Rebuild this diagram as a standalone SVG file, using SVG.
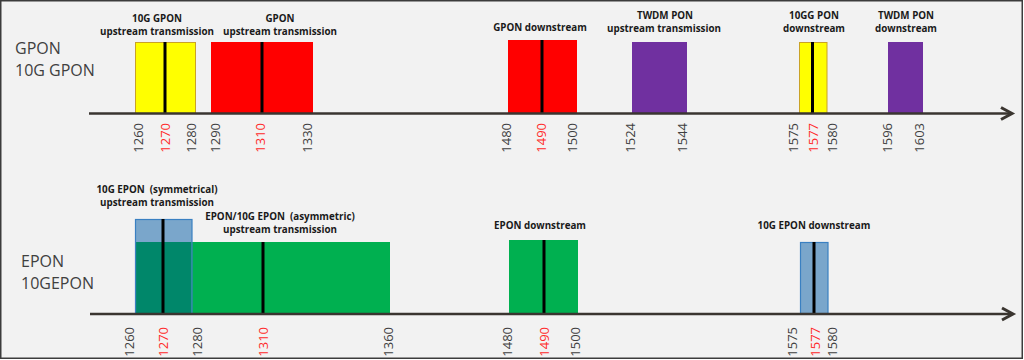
<svg xmlns="http://www.w3.org/2000/svg" width="1024" height="360" viewBox="0 0 1024 360">
  <defs>
    <clipPath id="frameClip"><rect x="1" y="1" width="1021" height="357"/></clipPath>
    <style>
      .lbl{font-family:"Open Sans","Liberation Sans",sans-serif;font-weight:bold;font-size:9.8px;fill:#1a1a1a;text-anchor:middle;white-space:pre}
      .side{font-family:"Open Sans","Liberation Sans",sans-serif;font-size:16px;fill:#404040}
      .tick{font-family:"Open Sans","Liberation Sans",sans-serif;font-size:13px;fill:#404040;text-anchor:end}
      .red{fill:#ff2a2a}
      .axis{stroke:#3a3530;stroke-width:2.5;fill:none}
      .arrow{stroke:#3a3530;stroke-width:3;fill:none;stroke-linejoin:miter}
      .center{stroke:#000;stroke-width:3}
      .yellow{fill:#ffff00;stroke:#c9a227;stroke-width:1}
      .redbox{fill:#ff0000}
      .purple{fill:#7030a0}
      .green{fill:#00b050}
      .blue{fill:#7aa6cb;stroke:#3a80c2;stroke-width:1.2}
      .teal{fill:#00876a}
    </style>
  </defs>
  <rect x="0" y="0" width="1024" height="360" fill="#ffffff"/>
  <rect x="0.75" y="0.75" width="1021.5" height="357.5" fill="#f2f2f2" stroke="#3c3c3c" stroke-width="1.5"/>

  <g clip-path="url(#frameClip)">
    <!-- Row labels -->
    <g id="row-gpon">
      <text class="side" x="15" y="54">GPON<tspan x="15" dy="22">10G GPON</tspan></text>
    </g>
    <g id="row-epon">
      <text class="side" x="21" y="267">EPON<tspan x="21" dy="22">10GEPON</tspan></text>
    </g>

    <!-- Top row bands -->
    <g id="gpon10g-up">
      <rect class="yellow" x="135.5" y="42.5" width="60" height="71"/>
      <line class="center" x1="165" y1="42" x2="165" y2="113"/>
      <text class="lbl" x="157" y="22">10G GPON<tspan x="157" dy="13.4">upstream transmission</tspan></text>
    </g>
    <g id="gpon-up">
      <rect class="redbox" x="211" y="42" width="102" height="71"/>
      <line class="center" x1="262" y1="42" x2="262" y2="113"/>
      <text class="lbl" x="280" y="22">GPON<tspan x="280" dy="13.4">upstream transmission</tspan></text>
    </g>
    <g id="gpon-down">
      <rect class="redbox" x="508" y="40" width="69" height="73"/>
      <line class="center" x1="542" y1="40" x2="542" y2="113"/>
      <text class="lbl" x="540" y="31">GPON downstream</text>
    </g>
    <g id="twdm-up">
      <rect class="purple" x="632" y="42" width="55" height="71"/>
      <text class="lbl" x="665" y="18.5">TWDM PON<tspan x="664" dy="13.4">upstream transmission</tspan></text>
    </g>
    <g id="xgpon-down">
      <rect class="yellow" x="799.5" y="42.5" width="27.5" height="71"/>
      <line class="center" x1="812.5" y1="42" x2="812.5" y2="113"/>
      <text class="lbl" x="814" y="18.5">10GG PON<tspan x="814" dy="13.4">downstream</tspan></text>
    </g>
    <g id="twdm-down">
      <rect class="purple" x="888" y="42" width="35" height="71"/>
      <text class="lbl" x="906" y="18.5">TWDM PON<tspan x="906" dy="13.4">downstream</tspan></text>
    </g>

    <!-- Bottom row bands -->
    <g id="epon-up">
      <rect class="green" x="135" y="242" width="255" height="72"/>
      <line class="center" x1="263" y1="242" x2="263" y2="314"/>
      <text class="lbl" x="280" y="220" xml:space="preserve">EPON/10G EPON  (asymmetric)<tspan x="280" dy="13.4">upstream transmission</tspan></text>
    </g>
    <g id="epon10g-sym-up">
      <rect class="blue" x="135.5" y="219.5" width="56.5" height="94.5"/>
      <rect class="teal" x="136.1" y="242" width="55.3" height="72"/>
      <line class="center" x1="163" y1="219" x2="163" y2="314"/>
      <text class="lbl" x="157" y="193" xml:space="preserve">10G EPON  (symmetrical)<tspan x="157" dy="13.4">upstream transmission</tspan></text>
    </g>
    <g id="epon-down">
      <rect class="green" x="509" y="240" width="69" height="74"/>
      <line class="center" x1="544" y1="240" x2="544" y2="314"/>
      <text class="lbl" x="540" y="229">EPON downstream</text>
    </g>
    <g id="epon10g-down">
      <rect class="blue" x="800.5" y="242.5" width="27.5" height="71.5"/>
      <line class="center" x1="814" y1="242" x2="814" y2="314"/>
      <text class="lbl" x="814" y="229">10G EPON downstream</text>
    </g>

    <!-- Axes -->
    <g id="connectors">
      <line class="axis" x1="89" y1="113.5" x2="1011" y2="113.5"/>
      <polyline class="arrow" points="1001,107.5 1012,113.5 1001,119.5"/>
      <line class="axis" x1="90" y1="314" x2="1012" y2="314"/>
      <polyline class="arrow" points="1002,308 1013,314 1002,320"/>
    </g>

    <!-- Tick labels top -->
    <g id="ticks-top">
      <text class="tick" transform="translate(142.5,123) rotate(-90)">1260</text>
      <text class="tick red" transform="translate(169.5,123) rotate(-90)">1270</text>
      <text class="tick" transform="translate(195.5,123) rotate(-90)">1280</text>
      <text class="tick" transform="translate(219.5,123) rotate(-90)">1290</text>
      <text class="tick red" transform="translate(264.5,123) rotate(-90)">1310</text>
      <text class="tick" transform="translate(311.5,123) rotate(-90)">1330</text>
      <text class="tick" transform="translate(510.5,123) rotate(-90)">1480</text>
      <text class="tick red" transform="translate(545.5,123) rotate(-90)">1490</text>
      <text class="tick" transform="translate(576.5,123) rotate(-90)">1500</text>
      <text class="tick" transform="translate(634.5,123) rotate(-90)">1524</text>
      <text class="tick" transform="translate(686.5,123) rotate(-90)">1544</text>
      <text class="tick" transform="translate(797.5,123) rotate(-90)">1575</text>
      <text class="tick red" transform="translate(817.5,123) rotate(-90)">1577</text>
      <text class="tick" transform="translate(836.5,123) rotate(-90)">1580</text>
      <text class="tick" transform="translate(891.5,123) rotate(-90)">1596</text>
      <text class="tick" transform="translate(923.5,123) rotate(-90)">1603</text>
    </g>
    <!-- Tick labels bottom -->
    <g id="ticks-bottom">
      <text class="tick" transform="translate(134,327) rotate(-90)">1260</text>
      <text class="tick red" transform="translate(167.5,327) rotate(-90)">1270</text>
      <text class="tick" transform="translate(202,327) rotate(-90)">1280</text>
      <text class="tick red" transform="translate(267.5,327) rotate(-90)">1310</text>
      <text class="tick" transform="translate(392.5,327) rotate(-90)">1360</text>
      <text class="tick" transform="translate(511.5,327) rotate(-90)">1480</text>
      <text class="tick red" transform="translate(548.5,327) rotate(-90)">1490</text>
      <text class="tick" transform="translate(579.5,327) rotate(-90)">1500</text>
      <text class="tick" transform="translate(796.5,327) rotate(-90)">1575</text>
      <text class="tick red" transform="translate(819.5,327) rotate(-90)">1577</text>
      <text class="tick" transform="translate(836.5,327) rotate(-90)">1580</text>
    </g>
  </g>
</svg>
